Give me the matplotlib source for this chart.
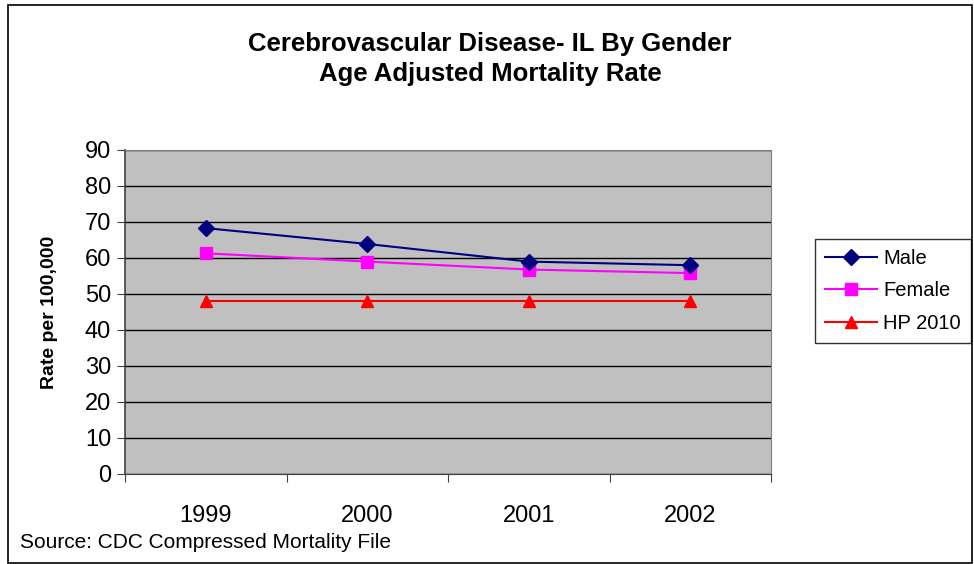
import matplotlib
matplotlib.use("Agg")
import matplotlib.pyplot as plt
from matplotlib.patches import Rectangle

# Dane
years = ["1999", "2000", "2001", "2002"]
male = [68.3, 63.9, 59.0, 58.0]
female = [61.3, 59.0, 56.8, 55.8]
hp2010 = [48, 48, 48, 48]
y_ticks = [0, 10, 20, 30, 40, 50, 60, 70, 80, 90]

plt.rcParams['font.family'] = ['Liberation Sans', 'DejaVu Sans']

fig = plt.figure(figsize=(9.74, 5.64), dpi=100)
ax = fig.add_axes([125 / 974, 90 / 564, 646 / 974, 324 / 564])
ax.set_facecolor('#C0C0C0')

# Obramowanie całego wykresu
fig.patches.append(Rectangle((8 / 974, 1 / 564), 964 / 974, 558 / 564,
                             transform=fig.transFigure, fill=False,
                             edgecolor='black', linewidth=1.2))

xs = [i + 0.5 for i in range(len(years))]
ax.plot(xs, male, color='#000080', marker='D', markersize=8, linewidth=1.5, label='Male', zorder=4)
ax.plot(xs, female, color='#FF00FF', marker='s', markersize=8, linewidth=1.5, label='Female', zorder=3)
ax.plot(xs, hp2010, color='#FF0000', marker='^', markersize=9, linewidth=1.5, label='HP 2010', zorder=3)

ax.set_xlim(0, len(years))
ax.set_ylim(0, 90)
ax.set_yticks(y_ticks)
ax.set_yticklabels([str(v) for v in y_ticks], fontsize=17)
ax.set_xticks(range(len(years) + 1))
ax.set_xticklabels([])
ax.set_xticks(xs, minor=True)
ax.set_xticklabels(years, minor=True, fontsize=17)
ax.tick_params(axis='x', which='minor', length=0, pad=22)
ax.tick_params(axis='x', which='major', length=6, direction='out', color='#404040')
ax.tick_params(axis='y', length=6, direction='out', color='#404040', pad=4)

ax.grid(axis='y', color='black', linewidth=1)
ax.set_axisbelow(True)
for side in ['top', 'right']:
    ax.spines[side].set_color('#808080')
for side in ['left', 'bottom']:
    ax.spines[side].set_color('#404040')
ax.spines['left'].set_linewidth(1.2)

ax.set_ylabel('Rate per 100,000', fontsize=14, fontweight='bold', labelpad=19)

fig.text(0.503, 0.922, 'Cerebrovascular Disease- IL By Gender', ha='center', va='center',
         fontsize=18.5, fontweight='bold')
fig.text(0.503, 0.868, 'Age Adjusted Mortality Rate', ha='center', va='center',
         fontsize=18.5, fontweight='bold')

fig.text(20 / 974, 1 - 542 / 564, 'Source: CDC Compressed Mortality File', ha='left', va='center',
         fontsize=15)

leg = ax.legend(loc='center left', bbox_to_anchor=(815 / 974, 1 - 291 / 564),
                bbox_transform=fig.transFigure, fontsize=14.5, frameon=True, fancybox=False,
                edgecolor='black', handlelength=2.6, handletextpad=0.3,
                labelspacing=0.65, borderpad=0.5, borderaxespad=0)
leg.get_frame().set_linewidth(1)

fig.savefig('out.png', dpi=100, facecolor='white')
